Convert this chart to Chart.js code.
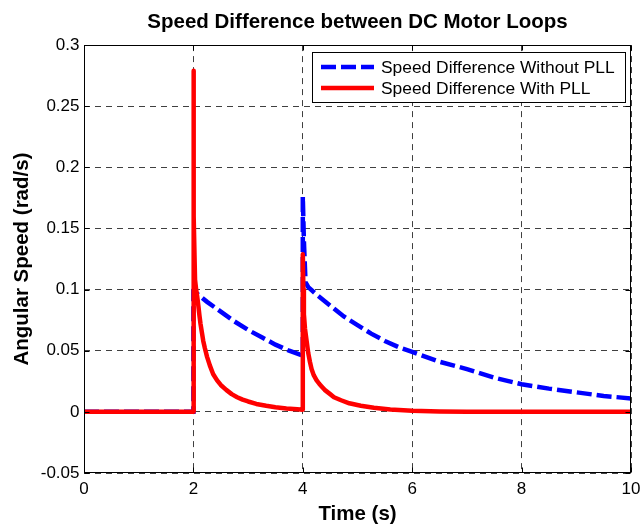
<!DOCTYPE html>
<html>
<head>
<meta charset="utf-8">
<script src="https://cdn.jsdelivr.net/npm/chart.js@4.4.1/dist/chart.umd.min.js"></script>
<style>
  html, body { margin: 0; padding: 0; background: #fff; }
  #wrap { width: 640px; height: 525px; position: relative; }
</style>
</head>
<body>
<div id="wrap"><canvas id="c"></canvas></div>
<script>
// ---- data ----
const chartTitle = 'Speed Difference between DC Motor Loops';
const xTitle = 'Time (s)';
const yTitle = 'Angular Speed (rad/s)';
const seriesNames = ['Speed Difference Without PLL', 'Speed Difference With PLL'];

const timeWithout = [0, 2, 2, 2.06, 2.25, 2.5, 2.75, 3.0, 3.25, 3.5, 3.75, 4.0, 4.0, 4.02, 4.05, 4.1, 4.25, 4.5, 4.75, 5.0, 5.25, 5.5, 5.75, 6.0, 6.5, 7.0, 7.5, 8.0, 8.5, 9.0, 9.5, 10];
const speedWithout = [0, 0, 0.098, 0.097, 0.09, 0.082, 0.074, 0.067, 0.061, 0.055, 0.05, 0.046, 0.176, 0.14, 0.106, 0.102, 0.096, 0.087, 0.078, 0.071, 0.064, 0.058, 0.053, 0.049, 0.041, 0.035, 0.028, 0.0226, 0.019, 0.016, 0.013, 0.011];

const timeWith = [0, 2, 2, 2.01, 2.03, 2.05, 2.07, 2.09, 2.11, 2.13, 2.155, 2.18, 2.21, 2.25, 2.3, 2.36, 2.43, 2.5, 2.6, 2.7, 2.8, 2.9, 3.0, 3.15, 3.33, 3.5, 3.7, 3.9, 4.0,
                  4.0, 4.01, 4.02, 4.04, 4.07, 4.1, 4.13, 4.16, 4.2, 4.25, 4.3, 4.34, 4.4, 4.5, 4.57, 4.7, 4.85, 5.06, 5.3, 5.6, 6.0, 6.5, 7.0, 10];
const speedWith = [0, 0, 0.279, 0.16, 0.108, 0.1, 0.094, 0.087, 0.079, 0.072, 0.065, 0.058, 0.052, 0.045, 0.038, 0.031, 0.026, 0.022, 0.018, 0.0145, 0.012, 0.01, 0.0085, 0.0065, 0.005, 0.0038, 0.0028, 0.0021, 0.0018,
                   0.129, 0.1, 0.08, 0.068, 0.058, 0.048, 0.041, 0.035, 0.03, 0.026, 0.023, 0.021, 0.018, 0.0145, 0.012, 0.0095, 0.007, 0.005, 0.0033, 0.002, 0.001, 0.0003, 0, 0];

const xTickValues = [0, 2, 4, 6, 8, 10];
const xTickLabels = ['0', '2', '4', '6', '8', '10'];
const yTickValues = [-0.05, 0, 0.05, 0.1, 0.15, 0.2, 0.25, 0.3];
const yTickLabels = ['-0.05', '0', '0.05', '0.1', '0.15', '0.2', '0.25', '0.3'];

const toPoints = (xs, ys) => xs.map((x, i) => ({ x: x, y: ys[i] }));

const FONT = 'Arial, "Liberation Sans", Helvetica, sans-serif';

// ---- plugins ----
const titleOverPlot = {
  id: 'titleOverPlot',
  afterLayout(chart) {
    const tb = chart.titleBlock;
    if (tb) {
      tb.left = chart.chartArea.left;
      tb.right = chart.chartArea.right;
      tb.width = tb.right - tb.left;
    }
  }
};

const matlabAxes = {
  id: 'matlabAxes',
  afterDatasetsDraw(chart) {
    const ctx = chart.ctx;
    const a = chart.chartArea;
    const xs = chart.scales.x, ys = chart.scales.y;
    ctx.save();
    ctx.strokeStyle = '#000';
    ctx.lineWidth = 1;
    ctx.setLineDash([]);
    const L = Math.round(a.left) + 0.5, R = Math.round(a.right) - 0.5;
    const T = Math.round(a.top) + 0.5, B = Math.round(a.bottom) - 0.5;
    ctx.strokeRect(L, T, R - L, B - T);
    const tl = 5;
    ctx.beginPath();
    xTickValues.forEach(v => {
      const px = Math.round(xs.getPixelForValue(v)) + 0.5;
      ctx.moveTo(px, B); ctx.lineTo(px, B - tl);
      ctx.moveTo(px, T); ctx.lineTo(px, T + tl);
    });
    yTickValues.forEach(v => {
      const py = Math.round(ys.getPixelForValue(v)) + 0.5;
      ctx.moveTo(L, py); ctx.lineTo(L + tl, py);
      ctx.moveTo(R, py); ctx.lineTo(R - tl, py);
    });
    ctx.stroke();
    ctx.restore();
  }
};

const boxedLegend = {
  id: 'boxedLegend',
  afterDraw(chart) {
    const ctx = chart.ctx;
    const a = chart.chartArea;
    const ds = chart.data.datasets;
    ctx.save();
    ctx.font = '17.4px ' + FONT;
    let maxW = 0;
    ds.forEach(d => { maxW = Math.max(maxW, ctx.measureText(d.label).width); });
    const boxW = Math.round(69 + maxW + 10);
    const boxH = 50;
    const boxR = Math.round(a.right) - 6;
    const boxL = boxR - boxW;
    const boxT = Math.round(a.top) + 7;
    ctx.fillStyle = '#fff';
    ctx.fillRect(boxL, boxT, boxW, boxH);
    ctx.strokeStyle = '#000';
    ctx.lineWidth = 1;
    ctx.setLineDash([]);
    ctx.strokeRect(boxL + 0.5, boxT + 0.5, boxW, boxH);
    ds.forEach((d, i) => {
      const y = boxT + 15 + i * 21;
      ctx.beginPath();
      ctx.strokeStyle = d.borderColor;
      ctx.lineWidth = d.borderWidth;
      ctx.setLineDash(d.borderDash || []);
      ctx.moveTo(boxL + 9, y);
      ctx.lineTo(boxL + 62, y);
      ctx.stroke();
      ctx.setLineDash([]);
      ctx.fillStyle = '#000';
      ctx.textBaseline = 'middle';
      ctx.textAlign = 'left';
      ctx.fillText(d.label, boxL + 69, y + 1);
    });
    ctx.restore();
  }
};

new Chart(document.getElementById('c'), {
  type: 'line',
  data: {
    datasets: [
      {
        label: seriesNames[0],
        data: toPoints(timeWithout, speedWithout),
        borderColor: '#0000ff',
        borderWidth: 4.5,
        borderDash: [15, 5],
        pointRadius: 0,
        fill: false,
        tension: 0,
        order: 1
      },
      {
        label: seriesNames[1],
        data: toPoints(timeWith, speedWith),
        borderColor: '#ff0000',
        borderWidth: 4.5,
        pointRadius: 0,
        fill: false,
        tension: 0,
        borderJoinStyle: 'round',
        order: 0
      }
    ]
  },
  options: {
    responsive: true,
    maintainAspectRatio: false,
    animation: false,
    devicePixelRatio: 1,
    layout: { padding: { left: 0, right: 0, top: 0, bottom: 0 } },
    plugins: {
      legend: { display: false },
      tooltip: { enabled: false },
      title: {
        display: true,
        text: chartTitle,
        color: '#000',
        font: { family: FONT, size: 20.5, weight: 'bold', lineHeight: 1.2 },
        padding: { top: 10.5, bottom: 10 }
      }
    },
    scales: {
      x: {
        type: 'linear',
        min: 0,
        max: 10,
        afterBuildTicks: s => { s.ticks = xTickValues.map(v => ({ value: v })); },
        afterFit: s => { s.height = 52; s.paddingRight = 9; s.paddingLeft = 5; },
        ticks: {
          color: '#000',
          font: { family: FONT, size: 17 },
          padding: 6,
          maxRotation: 0,
          callback: (v, i) => xTickLabels[i]
        },
        grid: { color: 'rgba(0,0,0,0.75)', lineWidth: 1, drawTicks: false },
        border: { display: false, dash: [6, 5] },
        title: {
          display: true,
          text: xTitle,
          color: '#000',
          font: { family: FONT, size: 20.5, weight: 'bold', lineHeight: 1 },
          padding: { top: 0, bottom: 0 }
        }
      },
      y: {
        type: 'linear',
        min: -0.05,
        max: 0.3,
        afterBuildTicks: s => { s.ticks = yTickValues.map(v => ({ value: v })); },
        afterFit: s => { s.width = 84; },
        ticks: {
          color: '#000',
          font: { family: FONT, size: 17 },
          padding: 4.5,
          callback: (v, i) => yTickLabels[i]
        },
        grid: { color: 'rgba(0,0,0,0.75)', lineWidth: 1, drawTicks: false },
        border: { display: false, dash: [6, 5] },
        title: {
          display: true,
          text: yTitle,
          color: '#000',
          font: { family: FONT, size: 20.5, weight: 'bold', lineHeight: 1.2 },
          padding: { top: 10, bottom: 0 }
        }
      }
    }
  },
  plugins: [titleOverPlot, matlabAxes, boxedLegend]
});
</script>
</body>
</html>
